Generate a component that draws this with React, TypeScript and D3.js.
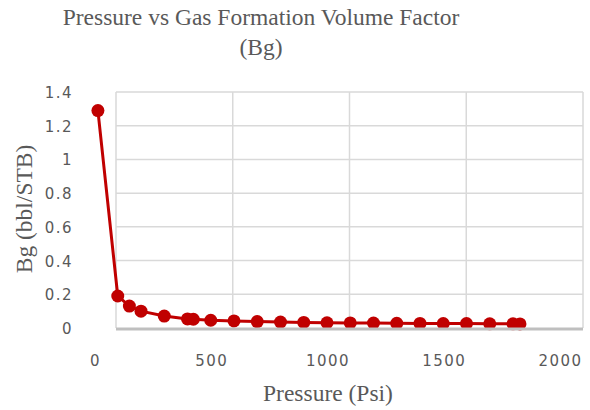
import * as d3 from "d3";

// pressure (psi) vs gas formation volume factor Bg (bbl/STB)
const pressure = [14.7, 100, 150, 200, 300, 400, 425, 500, 600, 700, 800, 900, 1000, 1100, 1200, 1300, 1400, 1500, 1600, 1700, 1800, 1830];
const bg = [1.29, 0.19, 0.13, 0.1, 0.071, 0.054, 0.052, 0.046, 0.042, 0.038, 0.035, 0.033, 0.031, 0.03, 0.029, 0.028, 0.027, 0.026, 0.026, 0.025, 0.025, 0.024];
const xTicks = [0, 500, 1000, 1500, 2000];
const yTicks = [0, 0.2, 0.4, 0.6, 0.8, 1, 1.2, 1.4];

const W = 590;
const H = 410;
const red = "#C00000";
const grey = "#595959";

export default function App() {
    // data + tick labels
    const xScale = d3.scaleLinear().domain([0, 2000]).range([94.5, 559.5]);
    // gridlines sit a bit to the right of the labels in the original
    const gridX = xScale.copy().range([116, 583]);
    const yScale = d3.scaleLinear().domain([0, 1.4]).range([328, 92]);

    const pts: [number, number][] = pressure.map((p, i) => [p, bg[i]]);
    const line = d3
        .line<[number, number]>()
        .x(d => xScale(d[0]))
        .y(d => yScale(d[1]));

    const [gx0, gx1] = gridX.range();
    const [gy0, gy1] = yScale.range();

    return (
        <svg width={W} height={H} style={{ position: "fixed", left: 0, top: 0, background: "#fff" }}>
            {/* gridlines */}
            {yTicks.slice(1).map(t => (
                <line key={"h" + t} x1={gx0} x2={gx1} y1={yScale(t)} y2={yScale(t)} stroke="#D9D9D9" strokeWidth={1.5} />
            ))}
            {xTicks.map(t => (
                <line key={"v" + t} x1={gridX(t)} x2={gridX(t)} y1={gy1} y2={gy0} stroke="#D9D9D9" strokeWidth={1.5} />
            ))}

            {/* series */}
            <path d={line(pts) || ""} fill="none" stroke={red} strokeWidth={3} />
            {pts.map((d, i) => (
                <circle key={i} cx={xScale(d[0])} cy={yScale(d[1])} r={6.5} fill={red} />
            ))}

            {/* x axis line */}
            <line x1={gx0} x2={gx1} y1={gy0 + 1} y2={gy0 + 1} stroke="#BFBFBF" strokeWidth={3} />

            {/* tick labels */}
            <g fontFamily="DejaVu Sans" fontSize={15} fill={grey} letterSpacing={1.5}>
                {yTicks.map(t => (
                    <text key={"yl" + t} x={73} y={yScale(t) + 1} textAnchor="end" dominantBaseline="central">
                        {d3.format("~g")(t)}
                    </text>
                ))}
                {xTicks.map(t => (
                    <text key={"xl" + t} x={xScale(t) + 1} y={366} textAnchor="middle">
                        {t}
                    </text>
                ))}
            </g>

            {/* titles */}
            <g fontFamily="Liberation Serif" fill={grey} fontSize={23.5}>
                <text x={261} y={25} textAnchor="middle">Pressure vs Gas Formation Volume Factor</text>
                <text x={261} y={55} textAnchor="middle">(Bg)</text>
                <text x={328} y={401} textAnchor="middle">Pressure (Psi)</text>
                <text transform="translate(32,209) rotate(-90)" textAnchor="middle">Bg (bbl/STB)</text>
            </g>
        </svg>
    );
}
